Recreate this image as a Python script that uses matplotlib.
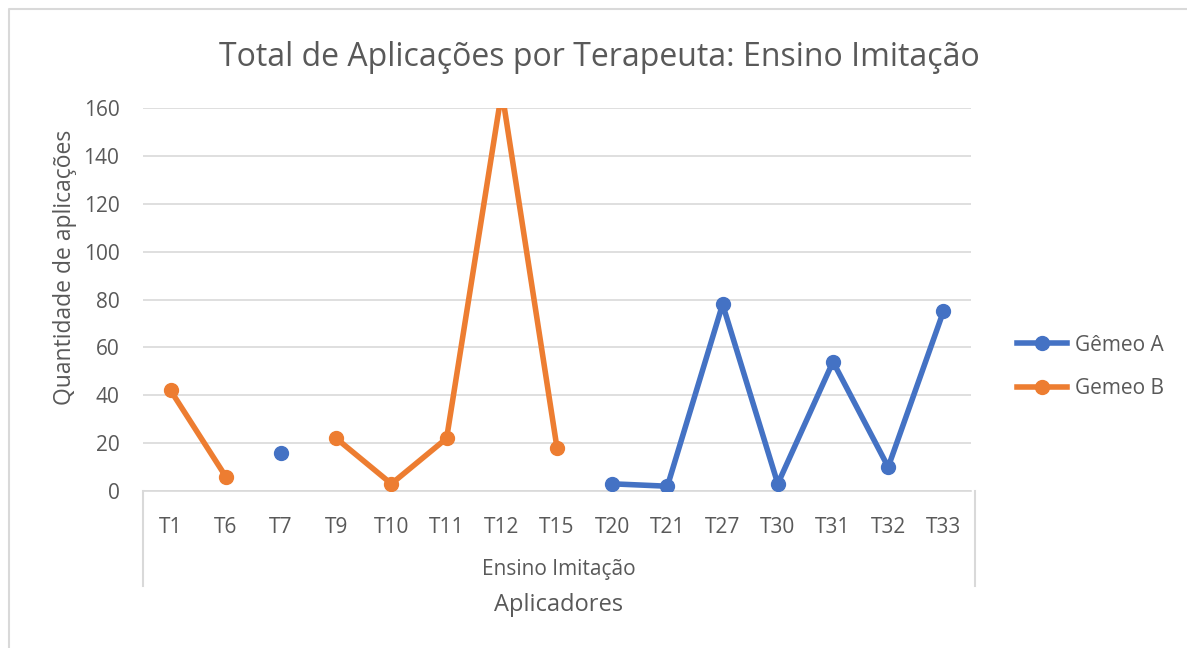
import matplotlib.pyplot as plt
import matplotlib.lines as mlines
import numpy as np

plt.rcParams['font.family'] = ['Open Sans', 'DejaVu Sans']

categorias = ['T1', 'T6', 'T7', 'T9', 'T10', 'T11', 'T12', 'T15',
              'T20', 'T21', 'T27', 'T30', 'T31', 'T32', 'T33']
nan = np.nan
gemeo_a = [nan, nan, 16, nan, nan, nan, nan, nan, 3, 2, 78, 3, 54, 10, 75]
gemeo_b = [42, 6, nan, 22, 3, 22, 167, 18, nan, nan, nan, nan, nan, nan, nan]
yticks = [0, 20, 40, 60, 80, 100, 120, 140, 160]

azul = '#4472C4'
laranja = '#ED7D31'
cinza_txt = '#595959'
cinza_linha = '#D9D9D9'

fig = plt.figure(figsize=(11.87, 6.48), dpi=100)
W, H = 1187, 648
ax = fig.add_axes([143 / W, 1 - 491 / H, (971 - 143) / W, (491 - 108) / H])

x = np.arange(len(categorias))
ax.plot(x, gemeo_a, color=azul, lw=4, marker='o', ms=10, label='Gêmeo A', zorder=3)
ax.plot(x, gemeo_b, color=laranja, lw=4, marker='o', ms=10, label='Gemeo B', zorder=3)

ax.set_xlim(-0.5, len(categorias) - 0.5)
ax.set_ylim(0, 160)
ax.set_yticks(yticks)
ax.set_xticks(x)
ax.set_xticklabels(categorias)
ax.tick_params(axis='both', length=0, labelsize=15, colors=cinza_txt)
ax.tick_params(axis='x', pad=19)
ax.tick_params(axis='y', pad=17)
ax.grid(axis='y', color=cinza_linha, lw=1.2)
ax.set_axisbelow(True)
for s in ['top', 'right', 'left']:
    ax.spines[s].set_visible(False)
ax.spines['bottom'].set_color(cinza_linha)
ax.spines['bottom'].set_linewidth(1.2)

# caixa do eixo de categorias em dois níveis
for xp in [143, 975]:
    fig.add_artist(mlines.Line2D([xp / W, xp / W], [1 - 491 / H, 1 - 586 / H],
                                 color=cinza_linha, lw=1.5))
fig.text(559 / W, 1 - 570 / H, 'Ensino Imitação', ha='center', va='center',
         fontsize=15, color=cinza_txt)
fig.text(559 / W, 1 - 605 / H, 'Aplicadores', ha='center', va='center',
         fontsize=17, color=cinza_txt)
fig.text(65 / W, 1 - 267 / H, 'Quantidade de aplicações', ha='center', va='center',
         rotation=90, fontsize=16.5, color=cinza_txt)
fig.text(599 / W, 1 - 58 / H, 'Total de Aplicações por Terapeuta: Ensino Imitação',
         ha='center', va='center', fontsize=23, color=cinza_txt)

# borda externa
fig.add_artist(mlines.Line2D([9 / W, 9 / W, 1.0], [0, 1 - 9 / H, 1 - 9 / H],
                             color=cinza_linha, lw=1.5))

leg = fig.legend(loc='center left', bbox_to_anchor=(998 / W, 1 - 367 / H),
                 frameon=False, fontsize=15, labelcolor=cinza_txt,
                 handlelength=2.4, handletextpad=0.4, labelspacing=1.1)

fig.savefig('out.png', dpi=100)
